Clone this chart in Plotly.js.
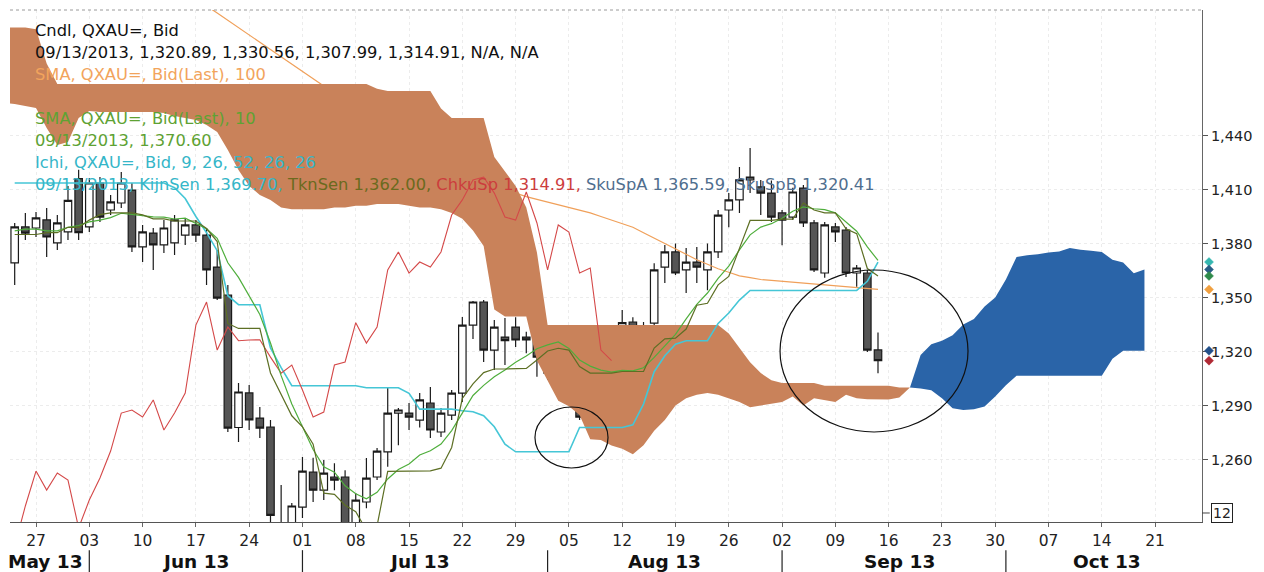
<!DOCTYPE html>
<html><head><meta charset="utf-8">
<script src="https://cdn.plot.ly/plotly-3.0.1.min.js"></script>
<style>html,body{margin:0;padding:0;background:#fff;}#chart{width:1264px;height:572px;}</style>
</head><body><div id="chart"></div>
<script>
// ---------- data ----------
const candleStart = '2013-05-23';   // first candle / indicator day
const cloudStart  = '2013-05-22';   // cloud begins one day earlier (left edge of the plot)

const open = [
 1369.2,1389.2,1388.6,1393.1,1380.3,1386.4,1416,1389.2,1413.6,1398.6,
 1402.5,1409.7,1378.1,1385.8,1379.2,1380.3,1384.7,1390.3,1384.7,1366.9,
 1351.4,1277.8,1297,1283,1278,1224,1205,1233.6,1253,1243,
 1250.3,1250.3,1220,1236.4,1250.3,1264.2,1285.8,1285.8,1281.9,1291.4,
 1275.3,1284.7,1296.9,1334.7,1347.5,1320.8,1328,1333.6,1328,1337.5,
 1330.3,1308,1313.6,1304.2,1283.6,1286.4,1312.5,1314.2,1336.4,1320.8,
 1335.8,1366.9,1375.3,1365.3,1369.7,1365.3,1375.3,1398.6,1404.2,1415.3,
 1411.4,1408,1397,1394.7,1410.8,1391.4,1363.6,1389.2,1387.5,1363.6,
 1363.6,1320.89];
const high = [
 1391.4,1397,1397.5,1399.7,1395.8,1412,1421,1416.4,1417,1407,
 1419.7,1413.6,1390.3,1388.6,1393,1395.8,1394.2,1393,1388.6,1376.4,
 1357,1302.5,1301.4,1289.2,1282,1245.8,1235.8,1261.4,1261,1259.7,
 1258,1254,1241.4,1260.8,1266.4,1299.7,1288.6,1291.4,1297,1300.3,
 1288.6,1298.6,1339.2,1348,1348.6,1337.5,1338.6,1339,1331,1341.4,
 1334.7,1317,1317,1307,1288.6,1314,1318,1343,1339,1336.4,
 1369,1379.2,1380,1377.5,1378,1380,1398.6,1408,1422.5,1433,
 1415.3,1415,1398.6,1411,1412.5,1393,1392,1391.4,1389.2,1368,
 1365.3,1330.56];
const low = [
 1356.9,1382,1383.6,1372.5,1376.4,1381.9,1382,1386.4,1392,1395.8,
 1399.7,1375.3,1369.7,1365.3,1374.7,1373.6,1379.2,1380.8,1356.9,1348.6,
 1275.3,1269.7,1276.4,1272,1222,1200,1180,1227.5,1236.4,1237.5,
 1243,1207,1210,1233,1248.6,1256,1268,1276.4,1277.8,1272,
 1272.5,1282,1292,1327,1314.2,1309.7,1312.5,1322.5,1319,1306,
 1304.2,1295,1293,1282,1274.7,1285,1311.4,1313.6,1321,1315.3,
 1332,1358,1362.5,1352.5,1358,1354,1372,1389,1397,1408,
 1395.8,1392,1379,1393,1389.2,1364.2,1361,1380.8,1361.4,1356,
 1319.7,1307.99];
const close = [
 1389.2,1385.8,1394.2,1383.6,1391.4,1404,1386,1413.6,1394.7,1403.1,
 1413.6,1378.1,1386.4,1379.2,1388.6,1393.1,1390.3,1384.7,1365.3,1349.7,
 1277.5,1297.5,1282,1277.5,1229,1212,1234.2,1253.6,1243,1252.5,
 1248.6,1222,1237.5,1249.7,1264.7,1285.8,1287.5,1283.6,1293.1,1276.4,
 1285.8,1296.9,1334.7,1347.5,1320.8,1333.6,1326,1326.4,1326.5,1316.9,
 1308,1312.5,1298.6,1283.6,1286.4,1312.5,1314.2,1336,1324.7,1333.6,
 1365.3,1375.3,1363.6,1369.7,1366.9,1375.3,1395.8,1404.2,1415.3,1416.9,
 1408,1394.7,1393,1408.6,1391.4,1365.3,1390.3,1386.4,1363.6,1366.4,
 1320.8,1314.91];

const sma10 = [
 1387,1388,1388,1387,1387,1389,1390,1392,1393,1394.4,
 1396.8,1396.1,1395.3,1394.8,1394.6,1393.6,1394.1,1391.2,1388.2,1382.9,
 1369.3,1361.2,1350.8,1340.6,1324.7,1306.6,1290.9,1277.8,1265.6,1255.9,
 1253,1245.4,1241,1238.2,1241.8,1249.2,1254.5,1257.5,1262.5,1264.9,
 1268.6,1276.1,1285.8,1295.6,1301.2,1306,1309.8,1314.1,1317.5,1321.5,
 1323.7,1325.3,1321.7,1315.3,1311.9,1309.7,1308.6,1309.5,1309.3,1311,
 1316.7,1323,1329.5,1338.1,1346.2,1352.5,1360.6,1367.4,1376.5,1384.8,
 1389.1,1391,1394,1397.9,1400.3,1399.3,1398.8,1397,1391.8,1386.8,
 1378.1,1370.6];
const sma100 = [
 null,null,null,null,null,null,null,null,null,null,
 null,null,null,null,null,null,null,1517,1512,1508,
 1504,1500,1496,1492,1488,1484,1480,1476,1472,1467.5,
 1463,1459,1455,1451,1447,1443.5,1440,1436,1432,1428.5,
 1425,1422,1419,1416.5,1414,1412,1410,1408,1406,1404.5,
 1403,1401.5,1400,1398.5,1397,1395,1393,1391,1389,1386,
 1383,1380,1377,1374,1371,1368.5,1366,1364,1362,1361,
 1360,1359.5,1359,1358.5,1358,1357.5,1357,1356.5,1356,1355.5,
 1355,1354.5];
const tenkan = [
 1385,1385,1385,1386,1386,1389,1389,1393,1396,1397,
 1397,1397,1395.9,1393.7,1393.7,1392.5,1392.5,1392.5,1388.3,1381.1,
 1335.6,1332.8,1332.8,1332.8,1308.1,1296.5,1284.3,1278.2,1268.5,1241.3,
 1240.7,1234.6,1231,1220.7,1223.2,1253.4,1253.4,1253.4,1253.4,1253.7,
 1255.2,1266.7,1293.9,1302,1308.3,1310.3,1310.3,1310.3,1310.6,1315.3,
 1320.3,1321.8,1320.8,1311.7,1308,1308,1308,1308.9,1308.9,1308.9,
 1321.9,1327,1327.4,1332.5,1345.7,1346.8,1357,1361.7,1377.3,1392.8,
 1392.8,1392.8,1393.5,1393.5,1402.5,1398.6,1397,1397,1388.2,1385.5,
 1366.1,1362];
const kijun = [
 1413.6,1413.6,1413.6,1413.6,1413.6,1413.6,1413.6,1413.6,1413.6,1413.6,
 1413.6,1413.6,1413.6,1413.6,1413.6,1411,1405,1395,1386,1376,
 1351,1346,1346,1346,1322,1311,1301,1301,1301,1301,
 1301,1301,1301,1299.9,1299.9,1299.9,1299.9,1296.8,1288,1288,
 1288,1288,1287.1,1286.5,1284.3,1278.2,1268.5,1264.3,1264.3,1264.3,
 1264.3,1264.3,1264.3,1277.8,1277.8,1277.8,1277.8,1277.8,1279.3,1290.8,
 1308.8,1317.6,1324,1326,1326,1326,1335.6,1341.4,1348.6,1353.9,
 1353.9,1353.9,1353.9,1353.9,1353.9,1353.9,1353.9,1353.9,1353.9,1353.9,
 1359,1369.7];
const chikou = [
 1212,1234.2,1253.6,1243,1252.5,1248.6,1222,1237.5,1249.7,1264.7,
 1285.8,1287.5,1283.6,1293.1,1276.4,1285.8,1296.9,1334.7,1347.5,1320.8,
 1333.6,1326,1326.4,1326.5,1316.9,1308,1312.5,1298.6,1283.6,1286.4,
 1312.5,1314.2,1336,1324.7,1333.6,1365.3,1375.3,1363.6,1369.7,1366.9,
 1375.3,1395.8,1404.2,1415.3,1416.9,1408,1394.7,1393,1408.6,1391.4,
 1365.3,1390.3,1386.4,1363.6,1366.4,1320.8,1314.91];
// cloud (Senkou spans), starting at cloudStart and running 25 days past the last candle
const senkouA = [
 1458,
 1457.5,1456.4,1455.3,1444.2,1434.7,1436.4,1449.7,1453.6,1453,1453,
 1453,1453,1453,1453,1452.5,1450.8,1449.7,1448.6,1445.8,1441.9,
 1432,1420.8,1412,1407,1404.2,1400,1399,1399,1399,1399,
 1400,1400,1401,1401,1402,1402,1402,1401,1400,1400,
 1399,1397,1393.8,1387.2,1378.6,1343.3,1339.4,1339.4,1339.4,1315,
 1303.8,1292.7,1289.6,1284.8,1271.2,1270.9,1267.8,1266,1263,1268,
 1276,1282,1290,1294,1296,1297,1296,1294,1292,1289,
 1290,1291,1292,1295,1290,1294,1293,1292,1296,1294,
 1293.5,1293.5,1293.4,1294.5,1300,1318,1324,1326,1329,1335,
 1338,1345,1350,1360,1372.5,1373.5,1374,1375,1375.5,1377.5,
 1376.5,1376,1375.3,1371,1369.5,1363.5,1365.59];
const senkouB = [
 1500,
 1500,1500,1499,1480,1468.6,1468.6,1468.6,1468.6,1468.6,1468.6,
 1468.6,1468.6,1468.6,1468.6,1468.6,1468.6,1468.6,1468.6,1468.6,1468.6,
 1468.6,1468.6,1468.6,1468.6,1468.6,1468.6,1468.6,1468.6,1468.6,1468.6,
 1468.6,1468.6,1468.6,1468.6,1466,1464.7,1464.7,1464.7,1464.7,1464.7,
 1455,1449.7,1449.7,1449.7,1449.7,1428,1420,1412,1400,1375,
 1334.7,1334.7,1334.7,1334.7,1334.7,1334.7,1334.7,1334.7,1334.7,1334.7,
 1334.7,1334.7,1334.7,1334.7,1334.7,1334.7,1334.7,1330,1322,1314,
 1308,1304,1302.5,1302.5,1302.5,1302.5,1301,1301,1301,1301,
 1301,1301,1301,1300,1300,1299.5,1298.5,1294,1288.5,1287.5,
 1287.9,1289.5,1295,1301.3,1306.5,1306.5,1306.5,1306.5,1306.5,1306.5,
 1306.5,1306.5,1306.5,1316,1320.4,1320.4,1320.41];

const yTicks = [1260,1290,1320,1350,1380,1410,1440];
const yRange = [1225.3, 1509.7];
const monthNames = ['May 13','Jun 13','Jul 13','Aug 13','Sep 13','Oct 13'];
const monthLabelAt = ['2013-05-28','2013-06-17','2013-07-16','2013-08-16','2013-09-17','2013-10-14 12:00'];
const legendLines = [
 {t:'Cndl, QXAU=, Bid', c:'#111111'},
 {t:'09/13/2013, 1,320.89, 1,330.56, 1,307.99, 1,314.91, N/A, N/A', c:'#111111'},
 {t:'SMA, QXAU=, Bid(Last), 100', c:'#f2a45c'},
 {t:'', c:'#111'},
 {t:'SMA, QXAU=, Bid(Last), 10', c:'#5ea233'},
 {t:'09/13/2013, 1,370.60', c:'#5ea233'},
 {t:'Ichi, QXAU=, Bid, 9, 26, 52, 26, 26', c:'#35b6c8'},
 {t:'<span style="color:#35b6c8">09/13/2013, KijnSen 1,369.70,</span> <span style="color:#6b6a1e">TknSen 1,362.00,</span> <span style="color:#cc3d3d">ChkuSp 1,314.91,</span> <span style="color:#4f6e8e">SkuSpA 1,365.59,</span> <span style="color:#4f6e8e">SkuSpB 1,320.41</span>', c:'#35b6c8'}
];

// ---------- colours ----------
const C = {
  up:'#ffffff', down:'#555555', wick:'#1a1a1a',
  bear:'#c9825a', bull:'#2a64a8',
  sma100:'#f0a05a', sma10:'#4fae3c', tenkan:'#5d6f24', kijun:'#45c6d6', chikou:'#d44848'
};
// last-value markers on the price axis: [series, colour]
const lastValueMarkers = [
  [kijun, '#35b7b0'], [senkouA, '#2a5f86'], [tenkan, '#2f8a4a'],
  [sma100, '#f0a040'], [senkouB, '#23508a'], [chikou, '#b02a35']
];

// ---------- trading-day calendar (weekdays only) ----------
function tradingDays(startIso, count){
  const out=[]; const d=new Date(startIso+'T00:00:00Z');
  while(out.length<count){ const w=d.getUTCDay(); if(w!==0&&w!==6) out.push(d.toISOString().slice(0,10)); d.setUTCDate(d.getUTCDate()+1); }
  return out;
}
const axisDays = tradingDays(cloudStart, 113);
const candleDates = tradingDays(candleStart, close.length);
const cloudDates = tradingDays(cloudStart, senkouA.length);
const chikouDates = candleDates.slice(0, chikou.length);
const mondays = axisDays.filter(d => new Date(d+'T00:00:00Z').getUTCDay()===1);
const monthStarts = axisDays.filter((d,i)=> i>0 && d.slice(5,7)!==axisDays[i-1].slice(5,7));
const lowerEdge = senkouA.map((a,i)=>Math.min(a, senkouB[i]));
const last = a => a[a.length-1];

const line = (y, x, color, w) => ({type:'scatter', mode:'lines', x, y,
  line:{color, width:w}, hoverinfo:'skip', connectgaps:false});

const traces = [
  line(sma100, candleDates, C.sma100, 1.2),
  {type:'scatter', mode:'lines', x:cloudDates, y:lowerEdge, line:{width:0}, hoverinfo:'skip'},
  {type:'scatter', mode:'lines', x:cloudDates, y:senkouB, line:{width:0}, fill:'tonexty', fillcolor:C.bear, hoverinfo:'skip'},
  {type:'scatter', mode:'lines', x:cloudDates, y:lowerEdge, line:{width:0}, hoverinfo:'skip'},
  {type:'scatter', mode:'lines', x:cloudDates, y:senkouA, line:{width:0}, fill:'tonexty', fillcolor:C.bull, hoverinfo:'skip'},
  line(kijun, candleDates, C.kijun, 1.6),
  line(chikou, chikouDates, C.chikou, 1.1),
  line(sma10, candleDates, C.sma10, 1.2),
  line(tenkan, candleDates, C.tenkan, 1.2),
  {type:'candlestick', x:candleDates, open, high, low, close, whiskerwidth:0, hoverinfo:'skip',
   increasing:{line:{color:C.wick, width:1.2}, fillcolor:C.up},
   decreasing:{line:{color:C.wick, width:1.2}, fillcolor:C.down}}
];

// ---------- layout ----------
const FONT = 'DejaVu Sans, Verdana, sans-serif';
const PLOT_W = 1264 - 10 - 62, PLOT_H = 572 - 10 - 50;
const annotations = [];
legendLines.forEach((l,i)=>{
  if(!l.t) return;
  annotations.push({xref:'paper', yref:'paper', x:0.0193, y:0.959 - i*0.0428, xanchor:'left', yanchor:'middle',
    text:l.t, showarrow:false, font:{family:FONT, size:16.3, color:l.c}});
});
monthNames.forEach((m,i)=>{
  annotations.push({xref:i===0?'paper':'x', yref:'paper', x:i===0?-0.003:monthLabelAt[i], y:-0.078,
    xanchor:i===0?'left':'center', yanchor:'middle', text:'<b>'+m+'</b>', showarrow:false,
    font:{family:FONT, size:18.5, color:'#111'}});
});
annotations.push({xref:'paper', yref:'paper', x:1, xshift:9, y:0.0176, xanchor:'left', yanchor:'middle',
  text:'12', showarrow:false, bordercolor:'#222', borderwidth:1, borderpad:1, font:{family:FONT, size:14, color:'#222'}});

const shapes = [
  {type:'line', xref:'paper', yref:'paper', x0:0, x1:1, y0:1, y1:1, line:{color:'#9a9a9a', width:1, dash:'dot'}},
  {type:'line', xref:'paper', yref:'paper', x0:1, x1:1.0065, y0:0.0176, y1:0.0176, line:{color:'#444', width:1}},
  {type:'circle', xref:'paper', yref:'paper', x0:0.4404, x1:0.5017, y0:0.1055, y1:0.2246, line:{color:'#111', width:1.2}},
  {type:'circle', xref:'paper', yref:'paper', x0:0.646, x1:0.8037, y0:0.1758, y1:0.4922, line:{color:'#111', width:1.2}}
];
monthStarts.forEach(d=>{
  shapes.push({type:'line', xref:'x', yref:'paper', x0:d, x1:d, y0:-0.055, y1:-0.098, line:{color:'#222', width:1.2}});
});
// diamond markers on the price axis at each series' last value (x in paper units, y in price units)
const dCx = 1 + 7/PLOT_W, dHx = 4.5/PLOT_W, dHy = 4.5*(yRange[1]-yRange[0])/PLOT_H;
lastValueMarkers.forEach(([s,c])=>{
  const v = last(s);
  shapes.push({type:'path', xref:'paper', yref:'y', layer:'above',
    path:`M ${dCx-dHx},${v} L ${dCx},${v+dHy} L ${dCx+dHx},${v} L ${dCx},${v-dHy} Z`,
    fillcolor:c, line:{color:c, width:0.5}});
});

const layout = {
  width:1264, height:572, margin:{l:10, r:62, t:10, b:50},
  paper_bgcolor:'#ffffff', plot_bgcolor:'#ffffff', showlegend:false,
  font:{family:FONT, size:15, color:'#222'},
  boxgap:0, boxgroupgap:0.3,
  xaxis:{type:'date', range:['2013-05-22 13:26','2013-10-25 09:36'], rangebreaks:[{bounds:['sat','mon']}],
    tickvals:mondays, tickformat:'%d', ticks:'outside', ticklen:4, tickcolor:'#666',
    showline:true, linecolor:'#555', linewidth:1, showgrid:true, gridcolor:'#ececec', griddash:'dot',
    zeroline:false, rangeslider:{visible:false}, fixedrange:true,
    tickfont:{family:FONT, size:15.5, color:'#222'}},
  yaxis:{side:'right', range:yRange, tickvals:yTicks, tickformat:',.0f', ticks:'outside', ticklen:5,
    tickcolor:'#555', showline:true, linecolor:'#666', linewidth:1, showgrid:true, gridcolor:'#ececec',
    griddash:'dot', zeroline:false, fixedrange:true, tickfont:{family:FONT, size:14.5, color:'#222'}},
  annotations, shapes
};

Plotly.newPlot('chart', traces, layout, {staticPlot:true, displayModeBar:false});
</script>
</body></html>
